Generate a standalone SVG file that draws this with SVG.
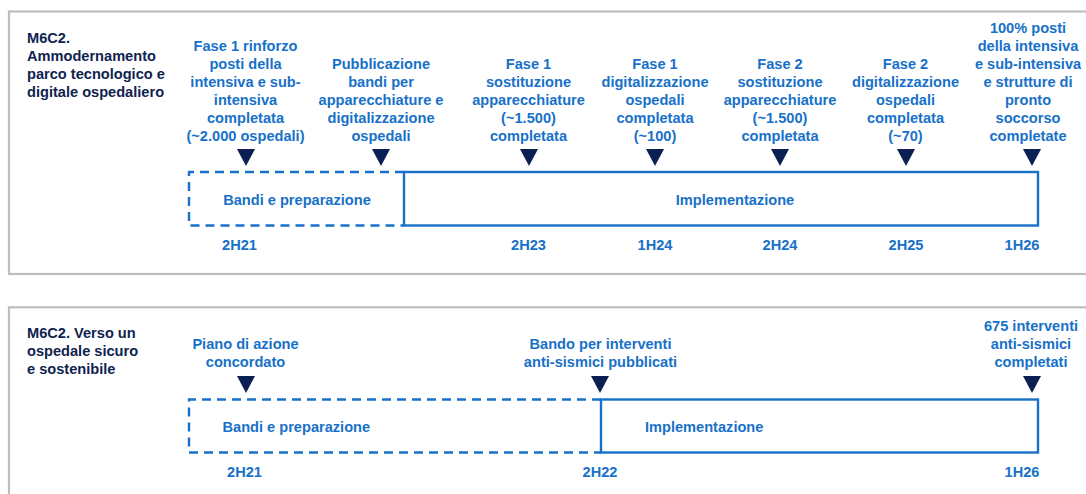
<svg xmlns="http://www.w3.org/2000/svg" width="1086" height="494" viewBox="0 0 1086 494">
<defs>
<style>
.panel{fill:#ffffff;stroke:#bdbdbd;stroke-width:2.2}
.t{font-family:"Liberation Sans",Arial,sans-serif;font-weight:bold;font-size:14.6px}
.title{fill:#0f2350}
.lbl{fill:#1771c9;text-anchor:middle}
.lblL{fill:#1771c9}
.tri{fill:#0b1f52}
.dash{fill:none;stroke:#1771c9;stroke-width:2.4;stroke-dasharray:9 6}
.solid{fill:none;stroke:#1771c9;stroke-width:2.4}
</style>
</defs>
<rect width="1086" height="494" fill="#ffffff"/>

<!-- Panel 1 -->
<g id="panel1">
<rect class="panel" x="9" y="11.5" width="1090" height="262.5"/>
<text class="t title" x="27" y="43">M6C2.</text>
<text class="t title" x="27" y="61">Ammodernamento</text>
<text class="t title" x="27" y="79">parco tecnologico e</text>
<text class="t title" x="27" y="97">digitale ospedaliero</text>
</g>

<g id="p1-bandi">
<path class="dash" d="M404,172 H189 V225.5 H404"/>
<text class="t lbl" x="297" y="205">Bandi e preparazione</text>
</g>
<g id="p1-impl">
<rect class="solid" x="404" y="172" width="634" height="53.5"/>
<text class="t lbl" x="735" y="205">Implementazione</text>
</g>

<g id="p1-m1">
<text class="t lbl" x="245.5" y="50.5">Fase 1 rinforzo</text>
<text class="t lbl" x="245.5" y="68.5">posti della</text>
<text class="t lbl" x="245.5" y="86.5">intensiva e sub-</text>
<text class="t lbl" x="245.5" y="104.5">intensiva</text>
<text class="t lbl" x="245.5" y="122.5">completata</text>
<text class="t lbl" x="245.5" y="140.5">(~2.000 ospedali)</text>
<polygon class="tri" points="237,149 255,149 246,166"/>
<text class="t lbl" x="239.5" y="250">2H21</text>
</g>

<g id="p1-m2">
<text class="t lbl" x="381" y="68.5">Pubblicazione</text>
<text class="t lbl" x="381" y="86.5">bandi per</text>
<text class="t lbl" x="381" y="104.5">apparecchiature e</text>
<text class="t lbl" x="381" y="122.5">digitalizzazione</text>
<text class="t lbl" x="381" y="140.5">ospedali</text>
<polygon class="tri" points="372,149 390,149 381,166"/>
</g>

<g id="p1-m3">
<text class="t lbl" x="528.5" y="68.5">Fase 1</text>
<text class="t lbl" x="528.5" y="86.5">sostituzione</text>
<text class="t lbl" x="528.5" y="104.5">apparecchiature</text>
<text class="t lbl" x="528.5" y="122.5">(~1.500)</text>
<text class="t lbl" x="528.5" y="140.5">completata</text>
<polygon class="tri" points="520,149 538,149 529,166"/>
<text class="t lbl" x="528.5" y="250">2H23</text>
</g>

<g id="p1-m4">
<text class="t lbl" x="655" y="68.5">Fase 1</text>
<text class="t lbl" x="655" y="86.5">digitalizzazione</text>
<text class="t lbl" x="655" y="104.5">ospedali</text>
<text class="t lbl" x="655" y="122.5">completata</text>
<text class="t lbl" x="655" y="140.5">(~100)</text>
<polygon class="tri" points="646,149 664,149 655,166"/>
<text class="t lbl" x="655" y="250">1H24</text>
</g>

<g id="p1-m5">
<text class="t lbl" x="780" y="68.5">Fase 2</text>
<text class="t lbl" x="780" y="86.5">sostituzione</text>
<text class="t lbl" x="780" y="104.5">apparecchiature</text>
<text class="t lbl" x="780" y="122.5">(~1.500)</text>
<text class="t lbl" x="780" y="140.5">completata</text>
<polygon class="tri" points="771,149 789,149 780,166"/>
<text class="t lbl" x="780" y="250">2H24</text>
</g>

<g id="p1-m6">
<text class="t lbl" x="905.5" y="68.5">Fase 2</text>
<text class="t lbl" x="905.5" y="86.5">digitalizzazione</text>
<text class="t lbl" x="905.5" y="104.5">ospedali</text>
<text class="t lbl" x="905.5" y="122.5">completata</text>
<text class="t lbl" x="905.5" y="140.5">(~70)</text>
<polygon class="tri" points="897,149 915,149 906,166"/>
<text class="t lbl" x="906" y="250">2H25</text>
</g>

<g id="p1-m7">
<text class="t lbl" x="1028" y="32.5">100% posti</text>
<text class="t lbl" x="1028" y="50.5">della intensiva</text>
<text class="t lbl" x="1028" y="68.5">e sub-intensiva</text>
<text class="t lbl" x="1028" y="86.5">e strutture di</text>
<text class="t lbl" x="1028" y="104.5">pronto</text>
<text class="t lbl" x="1028" y="122.5">soccorso</text>
<text class="t lbl" x="1028" y="140.5">completate</text>
<polygon class="tri" points="1023,149 1041,149 1032,166"/>
<text class="t lbl" x="1022" y="250">1H26</text>
</g>

<!-- Panel 2 -->
<g id="panel2">
<rect class="panel" x="9" y="307.3" width="1090" height="200"/>
<text class="t title" x="27" y="338">M6C2. Verso un</text>
<text class="t title" x="27" y="356">ospedale sicuro</text>
<text class="t title" x="27" y="374">e sostenibile</text>
</g>

<g id="p2-bandi">
<path class="dash" d="M601,399.5 H189 V452.5 H601"/>
<text class="t lblL" x="222.5" y="432">Bandi e preparazione</text>
</g>
<g id="p2-impl">
<rect class="solid" x="601" y="399.5" width="437" height="53"/>
<text class="t lblL" x="645" y="432">Implementazione</text>
</g>

<g id="p2-m1">
<text class="t lbl" x="245.5" y="349">Piano di azione</text>
<text class="t lbl" x="245.5" y="367">concordato</text>
<polygon class="tri" points="237,376 255,376 246,393"/>
<text class="t lbl" x="244.5" y="477">2H21</text>
</g>

<g id="p2-m2">
<text class="t lbl" x="600.5" y="349">Bando per interventi</text>
<text class="t lbl" x="600.5" y="367">anti-sismici pubblicati</text>
<polygon class="tri" points="591,376 609,376 600,393"/>
<text class="t lbl" x="600" y="477">2H22</text>
</g>

<g id="p2-m3">
<text class="t lbl" x="1031" y="331">675 interventi</text>
<text class="t lbl" x="1031" y="349">anti-sismici</text>
<text class="t lbl" x="1031" y="367">completati</text>
<polygon class="tri" points="1023,376 1041,376 1032,393"/>
<text class="t lbl" x="1022" y="477">1H26</text>
</g>

<g id="connectors"></g>
</svg>
